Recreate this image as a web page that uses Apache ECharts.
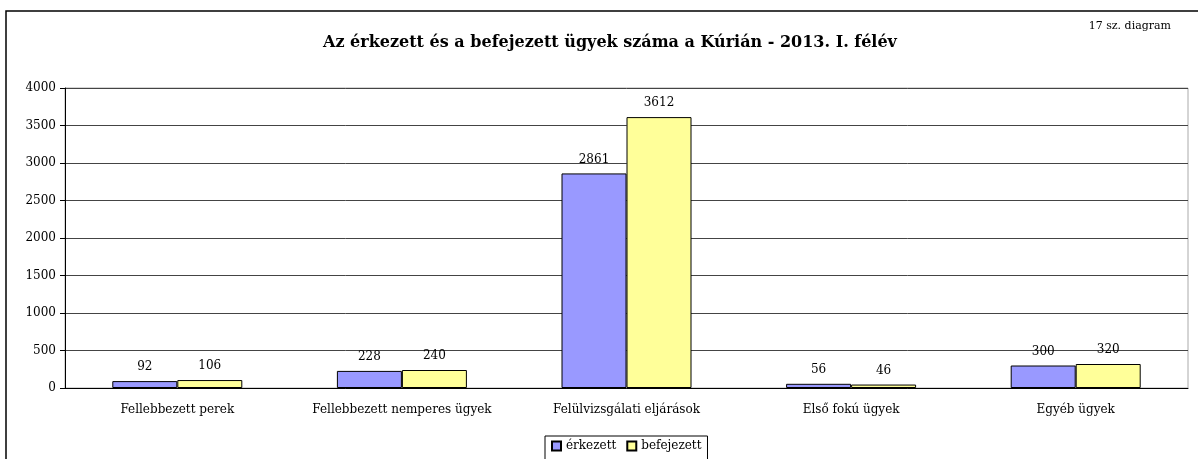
<!DOCTYPE html>
<html>
<head>
<meta charset="utf-8">
<script src="https://cdn.jsdelivr.net/npm/echarts@6/dist/echarts.min.js"></script>
<style>
  html, body { margin: 0; padding: 0; background: #fff; }
  #chart { width: 1198px; height: 459px; }
</style>
</head>
<body>
<div id="chart"></div>
<script>
// kategóriák és értékek
var categories = ['Fellebbezett perek', 'Fellebbezett nemperes ügyek', 'Felülvizsgálati eljárások', 'Első fokú ügyek', 'Egyéb ügyek'];
var erkezett = [92, 228, 2861, 56, 300];
var befejezett = [106, 240, 3612, 46, 320];
var seriesNames = ['érkezett', 'befejezett'];

var serif = '"DejaVu Serif", "Liberation Serif", serif';

var chart = echarts.init(document.getElementById('chart'));
chart.setOption({
	animation : false,
	textStyle : { fontFamily : serif, color : '#000' },
	title : [ {
		text : 'Az érkezett és a befejezett ügyek száma a Kúrián - 2013. I. félév',
		left : 318,
		top : 30,
		textStyle : { fontFamily : serif, fontSize : 16, fontWeight : 'bold', color : '#000' }
	}, {
		text : '17 sz. diagram',
		right : 22,
		top : 16,
		textStyle : { fontFamily : serif, fontSize : 11, fontWeight : 'normal', color : '#000' }
	} ],
	graphic : [ {
		type : 'rect',
		shape : { x : 6, y : 11, width : 1220, height : 480 },
		style : { fill : 'none', stroke : '#000', lineWidth : 1.5 },
		silent : true
	} ],
	legend : {
		data : seriesNames,
		left : 545,
		top : 436,
		icon : 'rect',
		itemWidth : 9,
		itemHeight : 9,
		itemGap : 10,
		padding : [ 4, 6, 10, 6 ],
		borderColor : '#000',
		borderWidth : 1,
		textStyle : { fontFamily : serif, fontSize : 12, color : '#000' }
	},
	grid : {
		left : 65,
		right : 10,
		top : 88,
		bottom : 71,
		show : true,
		borderColor : '#aaa',
		borderWidth : 1
	},
	xAxis : {
		type : 'category',
		data : categories,
		axisLine : { lineStyle : { color : '#000', width : 1 } },
		axisTick : { length : 5, lineStyle : { color : '#000' } },
		axisLabel : { interval : 0, hideOverlap : false, fontFamily : serif, fontSize : 12, color : '#000', margin : 16 }
	},
	yAxis : {
		type : 'value',
		min : 0,
		max : 4000,
		interval : 500,
		axisLine : { show : true, lineStyle : { color : '#000', width : 1 } },
		axisTick : { show : true, length : 5, lineStyle : { color : '#000' } },
		axisLabel : { fontFamily : serif, fontSize : 12, color : '#000', margin : 9, formatter : function (v) { return String(v); } },
		splitLine : { lineStyle : { color : '#444', width : 1 } }
	},
	series : [ {
		name : seriesNames[0],
		type : 'bar',
		data : erkezett,
		barWidth : 65,
		barGap : '0%',
		itemStyle : { color : '#9999FF', borderColor : '#000', borderWidth : 1 },
		label : { show : true, position : 'top', distance : 8, fontFamily : serif, fontSize : 12, color : '#000' }
	}, {
		name : seriesNames[1],
		type : 'bar',
		data : befejezett,
		barWidth : 65,
		barGap : '0%',
		itemStyle : { color : '#FFFF99', borderColor : '#000', borderWidth : 1 },
		label : { show : true, position : 'top', distance : 8, fontFamily : serif, fontSize : 12, color : '#000' }
	} ]
});
</script>
</body>
</html>
